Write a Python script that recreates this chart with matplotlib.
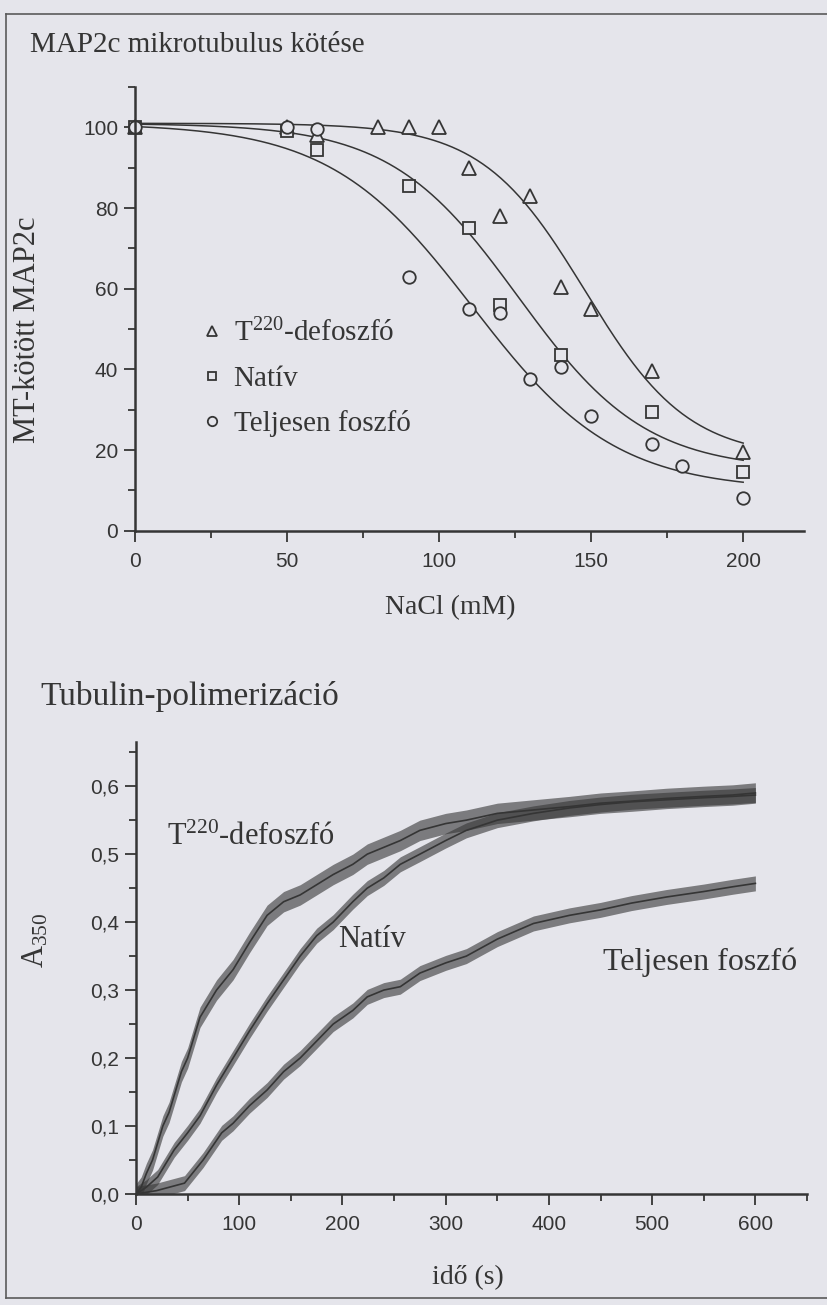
import numpy as np
import matplotlib.pyplot as plt
from matplotlib.lines import Line2D
from matplotlib.ticker import MultipleLocator, FuncFormatter

# a szkennelt oldal színei
PAPIR = '#e5e5eb'
TINTA = '#353535'

# --- felső ábra: MAP2c mikrotubulus kötése (NaCl, mM -> kötött %) ---
nacl_t220 = [0, 50, 60, 80, 90, 100, 110, 120, 130, 140, 150, 170, 200]
kot_t220 = [100, 100, 98, 100, 100, 100, 90, 78, 83, 60.5, 55, 39.5, 19.5]

nacl_nativ = [0, 50, 60, 90, 110, 120, 140, 170, 200]
kot_nativ = [100, 99, 94.5, 85.5, 75, 56, 43.5, 29.5, 14.5]

nacl_foszfo = [0, 50, 60, 90, 110, 120, 130, 140, 150, 170, 180, 200]
kot_foszfo = [100, 100, 99.5, 63, 55, 54, 37.5, 40.5, 28.5, 21.5, 16, 8]

# illesztett Boltzmann-görbék paraméterei (felső, alsó, x0, dx) - a képről becsülve
illeszt_t220 = [101, 18, 148, 17]
illeszt_nativ = [101, 15, 126, 21]
illeszt_foszfo = [101, 10, 111, 23.5]

nevek = ['T$^{220}$-defoszfó', 'Natív', 'Teljesen foszfó']

# --- alsó ábra: tubulin-polimerizáció (idő, s -> A350) ---
ido_t220 = [0, 5, 10, 16, 26, 32, 44, 50, 62, 78, 94, 110, 127, 143, 159, 175, 191,
            210, 224, 240, 256, 275, 300, 320, 350, 385, 420, 450, 480, 514, 550, 578, 600]
a_t220 = [0.0, 0.01, 0.03, 0.05, 0.10, 0.12, 0.18, 0.20, 0.26, 0.30, 0.33, 0.37, 0.41,
          0.43, 0.44, 0.455, 0.47, 0.485, 0.50, 0.51, 0.52, 0.535, 0.545, 0.55, 0.56,
          0.565, 0.57, 0.575, 0.578, 0.582, 0.585, 0.587, 0.59]

ido_nativ = [0, 10, 21, 37, 50, 62, 78, 94, 110, 127, 143, 159, 175, 191, 210, 224, 240,
             256, 275, 300, 320, 350, 385, 420, 450, 480, 514, 550, 578, 600]
a_nativ = [0.0, 0.01, 0.025, 0.065, 0.09, 0.115, 0.16, 0.20, 0.24, 0.28, 0.315, 0.35,
           0.38, 0.40, 0.43, 0.45, 0.465, 0.485, 0.50, 0.52, 0.535, 0.55, 0.56, 0.568,
           0.573, 0.577, 0.58, 0.583, 0.585, 0.587]

ido_foszfo = [0, 20, 47, 65, 83, 94, 110, 127, 143, 159, 175, 191, 210, 224, 240, 256,
              275, 300, 320, 350, 385, 420, 450, 480, 514, 550, 578, 600]
a_foszfo = [0.0, 0.005, 0.016, 0.05, 0.09, 0.104, 0.13, 0.153, 0.18, 0.20, 0.225, 0.25,
            0.27, 0.29, 0.30, 0.305, 0.325, 0.34, 0.35, 0.375, 0.398, 0.41, 0.418, 0.428,
            0.437, 0.445, 0.452, 0.457]

# a zajos görbék sávjának fél-szélessége (A350)
zaj_t220 = 0.015
zaj_nativ = 0.011
zaj_foszfo = 0.011


def boltzmann(x, p):
    felso, also, x0, dx = p
    return also + (felso - also) / (1 + np.exp((x - x0) / dx))


def vesszo(v, pos):
    return f'{v:.1f}'.replace('.', ',')


plt.rcParams['font.family'] = 'Liberation Serif'
plt.rcParams['mathtext.fontset'] = 'custom'
plt.rcParams['mathtext.rm'] = 'Liberation Serif'
plt.rcParams['mathtext.default'] = 'regular'
plt.rcParams['text.color'] = TINTA

fig = plt.figure(figsize=(8.28, 13.05), dpi=100, facecolor=PAPIR)


def stilus(ax):
    ax.set_facecolor(PAPIR)
    for s in ['top', 'right']:
        ax.spines[s].set_visible(False)
    for s in ['left', 'bottom']:
        ax.spines[s].set_linewidth(1.8)
        ax.spines[s].set_color(TINTA)
    ax.tick_params(which='both', direction='out', color=TINTA, width=1.3,
                   labelcolor=TINTA, labelsize=15, labelfontfamily='Liberation Sans')
    ax.tick_params(which='major', length=8, pad=4)
    ax.tick_params(axis='x', which='major', pad=7)
    ax.tick_params(which='minor', length=5)


# felső ábra
ax1 = fig.add_axes([135 / 828, 1 - 530.7 / 1305, 669 / 828, 443.7 / 1305])
stilus(ax1)
ax1.set_xlim(0, 220)
ax1.set_ylim(0, 110)
ax1.xaxis.set_major_locator(MultipleLocator(50))
ax1.xaxis.set_minor_locator(MultipleLocator(25))
ax1.yaxis.set_major_locator(MultipleLocator(20))
ax1.yaxis.set_minor_locator(MultipleLocator(10))
ax1.set_xticks([0, 50, 100, 150, 200])

xs = np.linspace(0, 200, 300)
for p in [illeszt_t220, illeszt_nativ, illeszt_foszfo]:
    ax1.plot(xs, boltzmann(xs, p), color=TINTA, lw=1.1, clip_on=False)

jel = dict(mfc=PAPIR, mec=TINTA, mew=1.3, ls='none', clip_on=False)
ax1.plot(nacl_t220, kot_t220, marker='^', ms=10, label=nevek[0], **jel)
ax1.plot(nacl_nativ, kot_nativ, marker='s', ms=8.5, label=nevek[1], **jel)
ax1.plot(nacl_foszfo, kot_foszfo, marker='o', ms=9, label=nevek[2], **jel)

ax1.legend(loc='center left', bbox_to_anchor=(0.071, 0.344), frameon=False,
           fontsize=21, markerscale=0.75, handlelength=1.0, handletextpad=0.25,
           labelspacing=0.62, borderpad=0, labelcolor=TINTA)

ax1.set_ylabel('MT-kötött MAP2c', fontsize=22, color=TINTA)
ax1.yaxis.set_label_coords(-0.139, 0.452)
ax1.set_xlabel('NaCl (mM)', fontsize=20, color=TINTA)
ax1.xaxis.set_label_coords(0.471, -0.174)
ax1.xaxis.label.set_va('center')

# alsó ábra
ax2 = fig.add_axes([136 / 828, 1 - 1194 / 1305, 671 / 828, 452 / 1305])
stilus(ax2)
ax2.set_xlim(0, 650)
ax2.set_ylim(0, 0.665)
ax2.xaxis.set_major_locator(MultipleLocator(100))
ax2.xaxis.set_minor_locator(MultipleLocator(50))
ax2.set_xticks([0, 100, 200, 300, 400, 500, 600])
ax2.yaxis.set_major_locator(MultipleLocator(0.1))
ax2.yaxis.set_minor_locator(MultipleLocator(0.05))
ax2.set_yticks([0, 0.1, 0.2, 0.3, 0.4, 0.5, 0.6])
ax2.yaxis.set_major_formatter(FuncFormatter(vesszo))

for t, a, z in [(ido_t220, a_t220, zaj_t220), (ido_nativ, a_nativ, zaj_nativ),
                (ido_foszfo, a_foszfo, zaj_foszfo)]:
    a = np.array(a)
    ax2.fill_between(t, a - z, a + z, color=TINTA, alpha=0.6, lw=0)
    ax2.plot(t, a, color=TINTA, lw=1.2)

ax2.text(30, 0.513, nevek[0], fontsize=22, color=TINTA, va='baseline')
ax2.text(196, 0.363, nevek[1], fontsize=22, color=TINTA, va='baseline')
ax2.text(452, 0.329, nevek[2], fontsize=23, color=TINTA, va='baseline')

ax2.set_ylabel('A$_{350}$', fontsize=22, color=TINTA)
ax2.yaxis.set_label_coords(-0.128, 0.562)
ax2.set_xlabel('idő (s)', fontsize=20, color=TINTA)
ax2.xaxis.set_label_coords(0.495, -0.184)
ax2.xaxis.label.set_va('center')

# címek
fig.text(30 / 828, 1 - 45 / 1305, 'MAP2c mikrotubulus kötése', fontsize=21,
         va='center', color=TINTA)
fig.text(40 / 828, 1 - 697 / 1305, 'Tubulin-polimerizáció', fontsize=24,
         va='center', color=TINTA)

# a keret vonalai
keret = dict(transform=fig.transFigure, color='#5a5a5a', lw=1.2)
fig.add_artist(Line2D([6 / 828, 6 / 828], [1 - 14 / 1305, 1 - 1298 / 1305], **keret))
fig.add_artist(Line2D([6 / 828, 1], [1 - 14 / 1305, 1 - 14 / 1305], **keret))
fig.add_artist(Line2D([6 / 828, 1], [1 - 1298 / 1305, 1 - 1298 / 1305], **keret))

fig.savefig('out.png', dpi=100, facecolor=PAPIR)
